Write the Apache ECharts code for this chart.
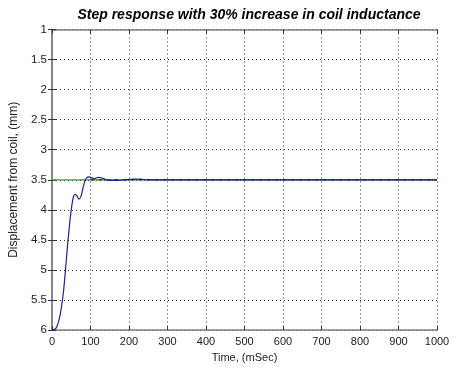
<!DOCTYPE html>
<html><head><meta charset="utf-8">
<script src="https://cdn.jsdelivr.net/npm/echarts@6/dist/echarts.min.js"></script>
<style>html,body{margin:0;padding:0;background:#fff}#c{width:455px;height:368px}</style>
</head><body><div id="c"></div>
<script>
var titleText = "Step response with 30% increase in coil inductance";
var xLabel = "Time, (mSec)";
var yLabel = "Displacement from coil, (mm)";
var timeMs = [0,5,10,15,20,25,30,35,40,45,50,55,60,65,70,75,80,85,90,95,100,110,120,130,140,150,170,190,210,230,250,300,400,500,600,700,800,900,1000];
var displacement = [6.0,5.99,5.97,5.9,5.78,5.6,5.35,5.0,4.62,4.28,4.0,3.8,3.74,3.77,3.82,3.78,3.65,3.53,3.47,3.45,3.46,3.48,3.46,3.47,3.5,3.51,3.51,3.5,3.49,3.49,3.5,3.5,3.5,3.5,3.5,3.5,3.5,3.5,3.5];
var refTime = [0,1000];
var refValue = [3.5,3.5];
var dashTime = [100,1000];
var dashValue = [3.5,3.5];

function pairs(a,b){return a.map(function(v,i){return [v,b[i]];});}
var chart = echarts.init(document.getElementById('c'));
var font = 'Liberation Sans';
var axisCommon = {
  axisLine:{show:true,lineStyle:{color:'#808080',width:1.5}},
  axisTick:{show:true,inside:true,length:4,lineStyle:{color:'#333'}},
  splitLine:{show:false}
};
chart.setOption({
  animation:false,
  title:{text:titleText,left:244,top:3,textAlign:'center',
    textStyle:{fontFamily:font,fontSize:14,fontWeight:'bold',fontStyle:'italic',color:'#000'}},
  grid:{left:51,right:18,top:29.5,bottom:35.5,containLabel:false},
  xAxis:[
    Object.assign({type:'value',min:0,max:1000,interval:100,position:'bottom',
      name:xLabel,nameLocation:'middle',nameGap:19,
      nameTextStyle:{fontFamily:font,fontSize:11,color:'#222'},
      axisLabel:{fontFamily:font,fontSize:11,color:'#222',margin:6,formatter:function(v){return String(v);}},
      },axisCommon,{splitLine:{show:true,lineStyle:{color:'#333',type:[1,3],width:1}}}),
    Object.assign({type:'value',min:0,max:1000,interval:100,position:'top',
      axisLabel:{show:false}},axisCommon)
  ],
  yAxis:[
    Object.assign({type:'value',min:1,max:6,interval:0.5,inverse:true,position:'left',
      name:yLabel,nameLocation:'middle',nameGap:32,
      nameTextStyle:{fontFamily:font,fontSize:12,color:'#222'},
      axisLabel:{fontFamily:font,fontSize:11.5,color:'#222',margin:5}
      },axisCommon,{splitLine:{show:true,lineStyle:{color:'#333',type:[1,3],width:1}}}),
    Object.assign({type:'value',min:1,max:6,interval:0.5,inverse:true,position:'right',
      axisLabel:{show:false}},axisCommon)
  ],
  series:[
    {type:'line',data:pairs(refTime,refValue),showSymbol:false,
      lineStyle:{color:'#3a9a3a',width:1.2},z:2},
    {type:'line',data:pairs(timeMs,displacement),showSymbol:false,smooth:0.3,
      lineStyle:{color:'#2020a0',width:1.2},z:3},
    {type:'line',data:pairs(dashTime,dashValue),showSymbol:false,
      lineStyle:{color:'#222',width:1,type:[4,4]},z:4}
  ]
});
</script></body></html>
